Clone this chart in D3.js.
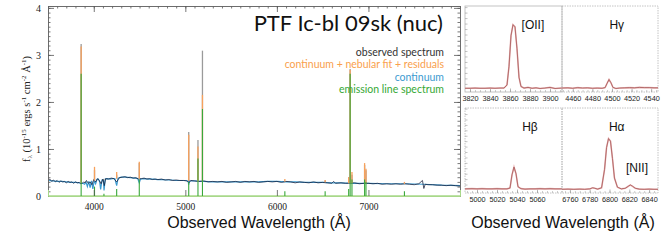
<!DOCTYPE html>
<html>
<head>
<meta charset="utf-8">
<script src="https://cdn.jsdelivr.net/npm/d3@7"></script>
<style>
  body { margin: 0; background: #fff; }
  svg { display: block; }
  .serif { font-family: "Liberation Serif", "DejaVu Serif", serif; }
  .sans { font-family: "Liberation Sans", Arial, sans-serif; }
</style>
</head>
<body>
<div id="chart"></div>
<script>
// Main panel: tick labels
const mainXTicks = [4000, 5000, 6000, 7000];
const mainYTicks = [0, 1, 2, 3, 4];

// Continuum fit (blue)
const contWave = [3500, 3550, 3600, 3650, 3700, 3750, 3800, 3850, 3880, 3900, 3915, 3930, 3945, 3960, 3975, 3990,
  4005, 4020, 4035, 4050, 4065, 4075, 4090, 4105, 4112, 4125, 4150, 4180, 4200, 4230, 4250, 4265, 4300, 4350,
  4400, 4450, 4480, 4497, 4510, 4550, 4600, 4650, 4700, 4750, 4800, 4850, 4900, 4950, 5000, 5030, 5037, 5045,
  5100, 5150, 5200, 5300, 5400, 5500, 5600, 5700, 5800, 5900, 6000, 6100, 6200, 6300, 6400, 6500, 6600, 6700,
  6800, 6900, 7000, 7200, 7400, 7600, 7800, 8000];
const contFlux = [0.33, 0.32, 0.31, 0.31, 0.30, 0.29, 0.29, 0.28, 0.27, 0.25, 0.30, 0.20, 0.31, 0.18, 0.32, 0.15,
  0.33, 0.26, 0.35, 0.36, 0.30, 0.14, 0.34, 0.35, 0.12, 0.36, 0.37, 0.36, 0.37, 0.37, 0.22, 0.38, 0.40, 0.40,
  0.39, 0.38, 0.37, 0.28, 0.36, 0.37, 0.36, 0.36, 0.35, 0.35, 0.34, 0.34, 0.33, 0.33, 0.33, 0.32, 0.24, 0.32,
  0.32, 0.31, 0.31, 0.30, 0.30, 0.30, 0.30, 0.30, 0.30, 0.31, 0.31, 0.30, 0.30, 0.29, 0.29, 0.29, 0.28, 0.28,
  0.27, 0.27, 0.27, 0.26, 0.26, 0.25, 0.23, 0.22];

// Observed spectrum (dark), continuum part
const obsWave = [3500, 3520, 3540, 3560, 3580, 3600, 3620, 3640, 3660, 3680, 3700, 3720, 3740, 3760, 3780, 3800,
  3820, 3840, 3855, 3875, 3890, 3905, 3920, 3940, 3960, 3980, 4000, 4020, 4040, 4060, 4080, 4100, 4115, 4130,
  4160, 4190, 4220, 4250, 4280, 4310, 4340, 4370, 4400, 4430, 4460, 4490, 4520, 4550, 4580, 4610, 4640, 4670,
  4700, 4740, 4780, 4820, 4860, 4900, 4940, 4980, 5020, 5040, 5060, 5100, 5150, 5200, 5250, 5300, 5350, 5400,
  5450, 5500, 5550, 5600, 5650, 5700, 5750, 5800, 5850, 5900, 5950, 6000, 6050, 6100, 6150, 6200, 6250, 6300,
  6350, 6400, 6450, 6500, 6550, 6600, 6620, 6640, 6700, 6750, 6850, 6900, 6950, 7000, 7050, 7100, 7150, 7200,
  7250, 7300, 7350, 7400, 7450, 7500, 7550, 7590, 7605, 7620, 7650, 7700, 7750, 7800, 7850, 7900, 7950, 8000];
const obsFlux = [0.33, 0.36, 0.31, 0.34, 0.30, 0.33, 0.29, 0.32, 0.30, 0.31, 0.28, 0.31, 0.29, 0.30, 0.27, 0.30,
  0.28, 0.29, 0.26, 0.27, 0.30, 0.28, 0.33, 0.27, 0.30, 0.24, 0.35, 0.30, 0.37, 0.33, 0.26, 0.36, 0.22, 0.37,
  0.36, 0.38, 0.37, 0.30, 0.39, 0.40, 0.41, 0.39, 0.40, 0.38, 0.39, 0.36, 0.37, 0.38, 0.36, 0.37, 0.35, 0.36,
  0.35, 0.36, 0.34, 0.35, 0.33, 0.34, 0.33, 0.33, 0.32, 0.28, 0.33, 0.32, 0.31, 0.32, 0.30, 0.31, 0.30, 0.31,
  0.29, 0.30, 0.31, 0.29, 0.31, 0.30, 0.31, 0.29, 0.30, 0.31, 0.30, 0.31, 0.29, 0.31, 0.30, 0.28, 0.30, 0.29,
  0.28, 0.30, 0.28, 0.29, 0.28, 0.27, 0.31, 0.27, 0.28, 0.27, 0.28, 0.26, 0.27, 0.27, 0.26, 0.27, 0.25, 0.26,
  0.25, 0.26, 0.25, 0.26, 0.25, 0.24, 0.26, 0.33, 0.16, 0.25, 0.24, 0.24, 0.23, 0.23, 0.22, 0.23, 0.22, 0.21];

// Emission lines (observed wavelength) and peak heights of each spectrum
const lineWave = [3862, 4008, 4111, 4250, 4497, 5037, 5138, 5187, 6087, 6527, 6784, 6800, 6820, 6958, 6973, 7393];
const lineObsPeak = [3.23, 0.55, 0.35, 0.45, 0.70, 1.36, 1.19, 3.09, 0.30, 0.33, 0.40, 2.70, 0.45, 0.66, 0.55, 0.28];
const lineFitPeak = [3.18, 0.62, 0.36, 0.51, 0.73, 1.30, 1.05, 2.15, 0.36, 0.34, 0.40, 2.68, 0.51, 0.70, 0.58, 0.30];
const lineEmisPeak = [2.60, 0.20, 0.05, 0.15, 0.35, 0.30, 0.80, 1.85, 0.10, 0.10, 0.15, 2.60, 0.35, 0.35, 0.30, 0.10];
const lineBase = [0.28, 0.33, 0.35, 0.37, 0.37, 0.32, 0.31, 0.31, 0.31, 0.29, 0.27, 0.27, 0.27, 0.27, 0.27, 0.26];

const legendLabels = ['observed spectrum', 'continuum + nebular fit + residuals', 'continuum', 'emission line spectrum'];
const legendColors = ['#333333', '#f9a04c', '#3b9ad0', '#35a835'];

// Zoom panels
const zoomPanels = [
  {
    label: '[OII]', ticks: [3820, 3840, 3860, 3880, 3900], domain: [3815, 3912],
    wave: [3815, 3820, 3825, 3830, 3835, 3840, 3845, 3850, 3854, 3857, 3859, 3861, 3863, 3865, 3867, 3869, 3871,
      3874, 3878, 3882, 3886, 3890, 3895, 3900, 3905, 3912],
    flux: [0.30, 0.30, 0.31, 0.30, 0.30, 0.31, 0.30, 0.31, 0.31, 0.45, 1.30, 2.70, 3.20, 3.10, 2.10, 0.80, 0.38,
      0.31, 0.34, 0.30, 0.32, 0.29, 0.31, 0.34, 0.29, 0.31],
    labelPos: [0.70, 0.22]
  },
  {
    label: 'Hγ', ticks: [4460, 4480, 4500, 4520, 4540], domain: [4449, 4547],
    wave: [4449, 4455, 4460, 4465, 4470, 4475, 4480, 4485, 4490, 4493, 4495, 4497, 4499, 4501, 4504, 4508, 4513,
      4518, 4523, 4528, 4533, 4538, 4543, 4547],
    flux: [0.31, 0.32, 0.30, 0.33, 0.31, 0.32, 0.30, 0.31, 0.30, 0.33, 0.52, 0.70, 0.55, 0.34, 0.29, 0.31, 0.32,
      0.33, 0.32, 0.34, 0.33, 0.33, 0.32, 0.32],
    labelPos: [0.57, 0.22]
  },
  {
    label: 'Hβ', ticks: [5000, 5020, 5040, 5060], domain: [4988, 5085],
    wave: [4988, 4995, 5000, 5005, 5010, 5015, 5020, 5025, 5030, 5033, 5035, 5037, 5039, 5041, 5044, 5048, 5053,
      5058, 5063, 5068, 5073, 5078, 5085],
    flux: [0.30, 0.31, 0.30, 0.31, 0.30, 0.30, 0.31, 0.30, 0.30, 0.34, 0.95, 1.31, 1.00, 0.40, 0.31, 0.29, 0.30,
      0.30, 0.31, 0.30, 0.31, 0.30, 0.30],
    labelPos: [0.67, 0.22]
  },
  {
    label: 'Hα', ticks: [6760, 6780, 6800, 6820, 6840], domain: [6752, 6849],
    wave: [6752, 6758, 6764, 6770, 6775, 6780, 6783, 6785, 6788, 6792, 6795, 6797, 6799, 6801, 6803, 6805, 6808,
      6812, 6816, 6819, 6821, 6823, 6826, 6830, 6835, 6840, 6845, 6849],
    flux: [0.28, 0.29, 0.28, 0.29, 0.28, 0.30, 0.35, 0.33, 0.29, 0.35, 1.20, 2.20, 2.62, 2.50, 1.70, 0.80, 0.38,
      0.30, 0.33, 0.42, 0.48, 0.43, 0.33, 0.29, 0.28, 0.29, 0.28, 0.28],
    labelPos: [0.57, 0.22]
  }
];

const width = 665;
const height = 245;
const main = {left: 48, right: 460, top: 6, bottom: 196};
const colX = [465, 562, 658];
const rowY = [[6, 92], [108, 193]];

const svg = d3.select('#chart')
  .append('svg')
  .attr('width', width)
  .attr('height', height);

// ---------- main panel ----------
const x = d3.scaleLinear().domain([3500, 8000]).range([main.left, main.right]);
const y = d3.scaleLinear().domain([0, 4.04]).range([main.bottom, main.top]);

const lineGen = (xs, ys) => d3.line().x(d => xs(d[0])).y(d => ys(d[1]));

// emission baseline (light green)
svg.append('line')
  .attr('x1', main.left).attr('x2', main.right)
  .attr('y1', y(0)).attr('y2', y(0))
  .attr('stroke', '#a8d88a').attr('stroke-width', 1.5);

svg.append('path')
  .datum(contWave.map((w, i) => [w, contFlux[i]]))
  .attr('d', lineGen(x, y))
  .attr('fill', 'none').attr('stroke', '#3b9ad0').attr('stroke-width', 1.2);

svg.append('path')
  .datum(obsWave.map((w, i) => [w, obsFlux[i]]))
  .attr('d', lineGen(x, y))
  .attr('fill', 'none').attr('stroke', '#1a1f3a').attr('stroke-width', 0.9).attr('opacity', 0.85);

const lines = lineWave.map((w, i) => ({
  w, base: lineBase[i], obs: lineObsPeak[i], fit: lineFitPeak[i], emis: lineEmisPeak[i]
}));

// each line: observed (gray) behind, fit (orange), then emission (green) from zero
const spikes = svg.append('g');
spikes.selectAll('.obs').data(lines).enter().append('line')
  .attr('x1', d => x(d.w)).attr('x2', d => x(d.w))
  .attr('y1', d => y(d.base)).attr('y2', d => y(d.obs))
  .attr('stroke', '#9a9a9a').attr('stroke-width', 1.3);
spikes.selectAll('.fit').data(lines).enter().append('line')
  .attr('x1', d => x(d.w)).attr('x2', d => x(d.w))
  .attr('y1', d => y(d.base)).attr('y2', d => y(d.fit))
  .attr('stroke', '#f7a15c').attr('stroke-width', 1.3);
spikes.selectAll('.emis').data(lines).enter().append('line')
  .attr('x1', d => x(d.w)).attr('x2', d => x(d.w))
  .attr('y1', d => y(0)).attr('y2', d => y(d.emis))
  .attr('stroke', '#3aa83a').attr('stroke-width', 1.1);

// axes
const axisStyle = g => {
  g.select('.domain').attr('stroke', '#666').attr('stroke-width', 0.8);
  g.selectAll('.tick line').attr('stroke', '#555').attr('stroke-width', 0.8);
};
const minorY = d3.range(0, 4.01, 0.1);
const minorX = d3.range(3500, 8001, 100);

svg.append('g').attr('transform', `translate(${main.left},0)`)
  .call(d3.axisLeft(y).tickValues(minorY).tickSize(-2.5).tickFormat(''))
  .call(axisStyle);
svg.append('g').attr('transform', `translate(${main.left},0)`)
  .call(d3.axisLeft(y).tickValues(mainYTicks).tickSize(-6).tickPadding(7).tickFormat(d3.format('d')))
  .call(axisStyle)
  .call(g => g.selectAll('text').attr('class', 'serif').attr('font-size', 10).attr('fill', '#222'));
svg.append('g').attr('transform', `translate(${main.right},0)`)
  .call(d3.axisRight(y).tickValues(minorY).tickSize(-2.5).tickFormat(''))
  .call(axisStyle);
svg.append('g').attr('transform', `translate(${main.right},0)`)
  .call(d3.axisRight(y).tickValues(mainYTicks).tickSize(-6).tickFormat(''))
  .call(axisStyle);
svg.append('g').attr('transform', `translate(0,${main.top})`)
  .call(d3.axisTop(x).tickValues(minorX).tickSize(-2.5).tickFormat(''))
  .call(axisStyle);
svg.append('g').attr('transform', `translate(0,${main.top})`)
  .call(d3.axisTop(x).tickValues(mainXTicks).tickSize(-6).tickFormat(''))
  .call(axisStyle);
svg.append('g').attr('transform', `translate(0,${main.bottom})`)
  .call(d3.axisBottom(x).tickValues(mainXTicks).tickSize(-6).tickPadding(7).tickFormat(d3.format('d')))
  .call(g => g.select('.domain').attr('stroke', '#a8d88a'))
  .call(g => g.selectAll('.tick line').attr('stroke', '#555').attr('stroke-width', 0.8))
  .call(g => g.selectAll('text').attr('class', 'serif').attr('font-size', 9.5).attr('fill', '#222'));

// y label
const ylab = svg.append('text')
  .attr('class', 'serif')
  .attr('transform', `translate(30,${(main.top + main.bottom) / 2 + 8}) rotate(-90)`)
  .attr('text-anchor', 'middle')
  .attr('font-size', 10.5)
  .attr('fill', '#222');
ylab.append('tspan').text('f');
ylab.append('tspan').attr('font-size', 7).attr('dy', 2).text('λ');
ylab.append('tspan').attr('dy', -2).text(' (10');
ylab.append('tspan').attr('font-size', 7).attr('dy', -4).text('-15');
ylab.append('tspan').attr('dy', 4).text(' ergs s');
ylab.append('tspan').attr('font-size', 7).attr('dy', -4).text('-1');
ylab.append('tspan').attr('dy', 4).text(' cm');
ylab.append('tspan').attr('font-size', 7).attr('dy', -4).text('-2');
ylab.append('tspan').attr('dy', 4).text(' Å');
ylab.append('tspan').attr('font-size', 7).attr('dy', -4).text('-1');
ylab.append('tspan').attr('dy', 4).text(')');

// title + legend
svg.append('text')
  .attr('x', 443).attr('y', 31)
  .attr('text-anchor', 'end')
  .attr('font-family', 'Lato, "Open Sans", sans-serif')
  .attr('font-size', 22)
  .attr('fill', '#111')
  .text('PTF Ic-bl 09sk (nuc)');

svg.append('g').selectAll('text')
  .data(legendLabels).enter().append('text')
  .attr('x', 444)
  .attr('y', (d, i) => 56 + i * 12.3)
  .attr('text-anchor', 'end')
  .attr('font-family', 'Lato, "Open Sans", sans-serif')
  .attr('font-size', 10.5)
  .attr('fill', (d, i) => legendColors[i])
  .text(d => d);

// x label main
svg.append('text')
  .attr('class', 'sans')
  .attr('x', (main.left + main.right) / 2 + 5).attr('y', 228)
  .attr('text-anchor', 'middle')
  .attr('font-size', 16)
  .attr('fill', '#111')
  .text('Observed Wavelength (Å)');

// ---------- zoom panels ----------
zoomPanels.forEach((p, k) => {
  const col = k % 2;
  const row = Math.floor(k / 2);
  const x0 = colX[col], x1 = colX[col + 1];
  const [y0, y1] = rowY[row];
  const zx = d3.scaleLinear().domain(p.domain).range([x0, x1]);
  const zy = d3.scaleLinear().domain(row === 0 ? [0.13, 4.05] : [0.11, 4.03]).range([y1, y0]);
  const g = svg.append('g');

  g.append('rect')
    .attr('x', x0).attr('y', y0).attr('width', x1 - x0).attr('height', y1 - y0)
    .attr('fill', 'none').attr('stroke', '#b5b5b5').attr('stroke-width', 0.8)
    .attr('stroke-dasharray', col === 1 || row === 1 ? '1.5,1' : null);

  g.append('g').attr('transform', `translate(0,${y1})`)
    .call(d3.axisBottom(zx).tickValues(d3.range(p.domain[0] - p.domain[0] % 5 + 5, p.domain[1], 5)).tickSize(-2).tickFormat(''))
    .call(s => s.select('.domain').remove())
    .call(s => s.selectAll('.tick line').attr('stroke', '#aaa').attr('stroke-width', 0.6));
  g.append('g').attr('transform', `translate(0,${y1})`)
    .call(d3.axisBottom(zx).tickValues(p.ticks).tickSize(-3.5).tickPadding(4).tickFormat(d3.format('d')))
    .call(s => s.select('.domain').remove())
    .call(s => s.selectAll('.tick line').attr('stroke', '#999').attr('stroke-width', 0.7))
    .call(s => s.selectAll('text').attr('class', 'sans').attr('font-size', 7.3).attr('fill', '#222'));

  if (col === 0) {
    g.append('g').attr('transform', `translate(${x0},0)`)
      .call(d3.axisLeft(zy).tickValues(d3.range(0.5, 4.01, 0.25)).tickSize(-2.5).tickFormat(''))
      .call(s => s.select('.domain').remove())
      .call(s => s.selectAll('.tick line').attr('stroke', '#999').attr('stroke-width', 0.6));
  }

  g.append('path')
    .datum(p.wave.map((w, i) => [w, p.flux[i]]))
    .attr('d', lineGen(zx, zy))
    .attr('fill', 'none').attr('stroke', '#e8b4b4').attr('stroke-width', 1.6);
  g.append('path')
    .datum(p.wave.map((w, i) => [w, p.flux[i]]))
    .attr('d', lineGen(zx, zy))
    .attr('fill', 'none').attr('stroke', '#a65858').attr('stroke-width', 0.8);

  g.append('text')
    .attr('class', 'sans')
    .attr('x', x0 + p.labelPos[0] * (x1 - x0))
    .attr('y', y0 + p.labelPos[1] * (y1 - y0) + 4)
    .attr('text-anchor', 'middle')
    .attr('font-size', 12)
    .attr('fill', '#111')
    .text(p.label);
});

svg.append('text')
  .attr('class', 'sans')
  .attr('x', 637).attr('y', 172)
  .attr('text-anchor', 'middle')
  .attr('font-size', 12)
  .attr('fill', '#111')
  .text('[NII]');

svg.append('text')
  .attr('class', 'sans')
  .attr('x', 563).attr('y', 228)
  .attr('text-anchor', 'middle')
  .attr('font-size', 16)
  .attr('fill', '#111')
  .text('Observed Wavelength (Å)');
</script>
</body>
</html>
